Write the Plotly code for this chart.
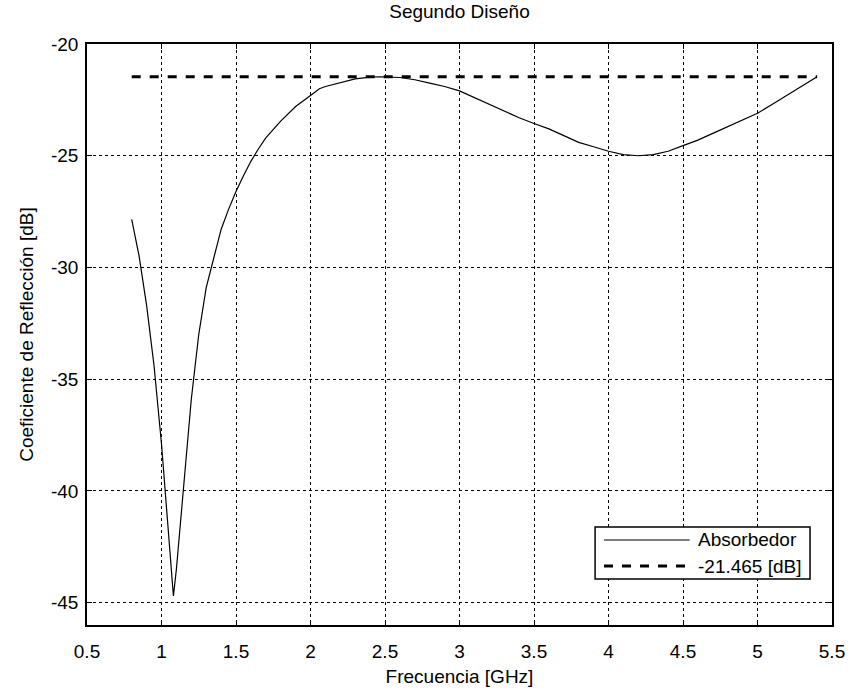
import plotly.graph_objects as go

freq = [0.8, 0.85, 0.9, 0.95, 1.0, 1.05, 1.08, 1.1, 1.15, 1.2, 1.25, 1.3, 1.35, 1.4,
        1.45, 1.5, 1.55, 1.6, 1.65, 1.7, 1.8, 1.9, 2.0, 2.06, 2.1, 2.2, 2.3, 2.4, 2.47,
        2.6, 2.7, 2.8, 2.9, 3.0, 3.1, 3.2, 3.3, 3.4, 3.5, 3.6, 3.7, 3.8, 3.9, 4.0,
        4.1, 4.2, 4.3, 4.4, 4.5, 4.6, 4.7, 4.8, 4.9, 5.0, 5.1, 5.2, 5.3, 5.4]
refl = [-27.85, -29.5, -31.7, -34.4, -37.9, -42.2, -44.7, -43.5, -39.6, -35.9, -33.0,
        -30.9, -29.6, -28.3, -27.4, -26.6, -25.9, -25.25, -24.7, -24.2, -23.45, -22.8,
        -22.3, -22.0, -21.9, -21.72, -21.56, -21.48, -21.465, -21.5, -21.6, -21.75,
        -21.9, -22.1, -22.4, -22.7, -23.0, -23.3, -23.56, -23.8, -24.1, -24.4, -24.6,
        -24.8, -24.95, -25.0, -24.95, -24.8, -24.55, -24.3, -24.0, -23.7, -23.4, -23.1,
        -22.7, -22.3, -21.9, -21.465]
ref_level = -21.465
ref_x = [0.8, 5.4]
series_names = ["Absorbedor", "-21.465 [dB]"]
x_ticks = [0.5, 1, 1.5, 2, 2.5, 3, 3.5, 4, 4.5, 5, 5.5]
x_ticklabels = ["0.5", "1", "1.5", "2", "2.5", "3", "3.5", "4", "4.5", "5", "5.5"]
y_ticks = [-45, -40, -35, -30, -25, -20]
y_ticklabels = ["-45", "-40", "-35", "-30", "-25", "-20"]

font = "Liberation Sans, Arial, sans-serif"
FS = 19
tf = dict(size=FS, color="black", family=font)

solid = dict(color="black", width=1.2)
dashed = dict(color="black", width=3, dash="dash")

fig = go.Figure()
fig.add_trace(go.Scatter(x=freq, y=refl, mode="lines", name=series_names[0],
                         line=solid, showlegend=False))
fig.add_trace(go.Scatter(x=ref_x, y=[ref_level, ref_level], mode="lines",
                         name=series_names[1], line=dashed, showlegend=False))

axis_common = dict(showline=True, linecolor="black", linewidth=1.5, mirror="allticks",
                   ticks="inside", ticklen=5, tickcolor="black", automargin=False,
                   showgrid=True, gridcolor="black", gridwidth=1, griddash="dot",
                   zeroline=False, tickfont=tf)

fig.update_xaxes(range=[0.5, 5.5], tickmode="array", tickvals=x_ticks, ticktext=x_ticklabels,
                 ticklabelstandoff=8,
                 title=dict(text="Frecuencia [GHz]", font=tf, standoff=9),
                 **axis_common)
fig.update_yaxes(range=[-46, -20], tickmode="array", tickvals=y_ticks, ticktext=y_ticklabels,
                 ticklabelstandoff=3,
                 title=dict(text="Coeficiente de Reflección [dB]", font=tf, standoff=12),
                 **axis_common)

# legend box (MATLAB style), drawn in paper coordinates
lx0, lx1, ly0, ly1 = 0.682, 0.9705, 0.0792, 0.1687
fig.add_shape(type="rect", xref="paper", yref="paper", x0=lx0, x1=lx1, y0=ly0, y1=ly1,
              line=dict(color="black", width=1.5), fillcolor="white", layer="above")
entry_y = [0.1463, 0.1015]
for yy, ln, name in zip(entry_y, [solid, dashed], series_names):
    fig.add_shape(type="line", xref="paper", yref="paper", x0=0.694, x1=0.809, y0=yy, y1=yy,
                  line=ln, layer="above")
    fig.add_annotation(xref="paper", yref="paper", x=0.818, y=yy, text=name,
                       showarrow=False, xanchor="left", yanchor="middle", font=tf)

fig.update_layout(
    width=852, height=691,
    margin=dict(l=87, r=20, t=44, b=66),
    paper_bgcolor="white", plot_bgcolor="white",
    font=dict(family=font, size=FS, color="black"),
    title=dict(text="Segundo Diseño", x=0.5, xref="paper", xanchor="center",
               y=0.983, yanchor="middle", font=tf),
    showlegend=False,
)

fig.write_html("out.html")
